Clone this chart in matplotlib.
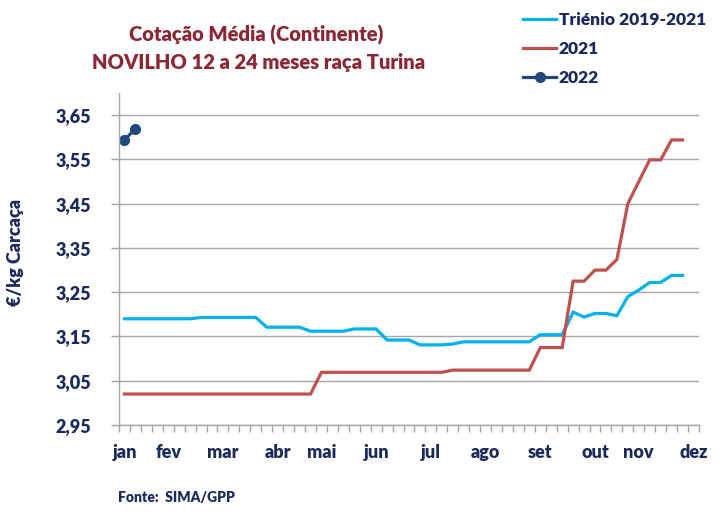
import matplotlib
matplotlib.use("Agg")
import matplotlib.pyplot as plt
from matplotlib.ticker import FixedLocator, NullFormatter

# ---- data ----
weeks = list(range(1, 54))  # 53 weekly categories
month_labels = ["jan", "fev", "mar", "abr", "mai", "jun", "jul", "ago", "set", "out", "nov", "dez"]
month_weeks = [1, 5, 10, 15, 19, 24, 29, 34, 39, 44, 48, 53]

trienio = [3.190, 3.190, 3.190, 3.190, 3.190, 3.190, 3.190,
           3.193, 3.193, 3.193, 3.193, 3.193, 3.193,
           3.171, 3.171, 3.171, 3.171,
           3.162, 3.162, 3.162, 3.162,
           3.167, 3.167, 3.167,
           3.142, 3.142, 3.142,
           3.131, 3.131, 3.131, 3.133,
           3.138, 3.138, 3.138, 3.138, 3.138, 3.138, 3.138,
           3.154, 3.154, 3.154,
           3.205, 3.194, 3.202, 3.202, 3.197, 3.240, 3.255, 3.272, 3.272, 3.288, 3.288]

y2021 = [3.020] * 18 + [3.069] * 12 + [3.074] * 8 + [3.125, 3.125, 3.125,
         3.275, 3.275, 3.300, 3.300, 3.324, 3.450, 3.500, 3.549, 3.549, 3.594, 3.594]

y2022 = [3.594, 3.619]

yticks = [2.95, 3.05, 3.15, 3.25, 3.35, 3.45, 3.55, 3.65]
ytick_labels = ["2,95", "3,05", "3,15", "3,25", "3,35", "3,45", "3,55", "3,65"]

# ---- style ----
FONT = "Lato"
WEIGHT = "heavy"
NAVY = "#1B2A5C"
DARKRED = "#8C2634"
GRID = "#A6A6A6"

fig = plt.figure(figsize=(7.25, 5.13), dpi=100)
ax = fig.add_axes([0.1641, 0.1715, 0.8, 0.6472])

def xpos(ws):
    return [w - 1 for w in ws]

ax.plot(xpos(weeks[:len(trienio)]), trienio, color="#00B0F0", lw=2.3, label="Triénio 2019-2021",
        solid_joinstyle="miter")
ax.plot(xpos(weeks[:len(y2021)]), y2021, color="#C0504D", lw=2.3, label="2021",
        solid_joinstyle="miter")
ax.plot(xpos(weeks[:len(y2022)]), y2022, color="#1F497D", lw=2.3, marker="o", ms=7, label="2022")

ax.set_xlim(-0.5, len(weeks) - 0.5)
ax.set_ylim(2.95, 3.70)
ax.set_yticks(yticks)
ax.set_yticklabels(ytick_labels)
ax.yaxis.grid(True, color=GRID, lw=1)
ax.set_axisbelow(True)

ax.set_xticks(xpos(month_weeks))
ax.set_xticklabels(month_labels)
ax.tick_params(axis="x", which="major", length=0, pad=14)
ax.xaxis.set_minor_locator(FixedLocator([i - 0.5 for i in range(len(weeks) + 1)]))
ax.xaxis.set_minor_formatter(NullFormatter())
ax.tick_params(axis="x", which="minor", length=5, color=GRID, width=1)
ax.tick_params(axis="y", length=6, color=GRID, width=1, pad=14)

for lab in ax.get_xticklabels() + ax.get_yticklabels():
    lab.set_fontfamily(FONT)
    lab.set_fontweight(WEIGHT)
    lab.set_fontsize(13)
    lab.set_color(NAVY)

for s in ["top", "right"]:
    ax.spines[s].set_visible(False)
for s in ["left", "bottom"]:
    ax.spines[s].set_color(GRID)
    ax.spines[s].set_linewidth(1)

fig.text(0.022, 0.507, "€/kg Carcaça", rotation=90, ha="center", va="center",
         fontfamily=FONT, fontweight=WEIGHT, fontsize=13, color=NAVY)

fig.text(0.354, 0.932, "Cotação Média (Continente)", ha="center", va="center",
         fontfamily=FONT, fontweight=WEIGHT, fontsize=14.5, color=DARKRED)
fig.text(0.357, 0.879, "NOVILHO 12 a 24 meses raça Turina", ha="center", va="center",
         fontfamily=FONT, fontweight=WEIGHT, fontsize=14.5, color=DARKRED)

fig.text(0.163, 0.031, "Fonte:  SIMA/GPP", ha="left", va="center",
         fontfamily=FONT, fontweight=WEIGHT, fontsize=10, color=NAVY)

leg = fig.legend(loc="upper left", bbox_to_anchor=(0.705, 1.0), frameon=False,
                 prop={"family": FONT, "weight": WEIGHT, "size": 12.5},
                 handlelength=1.9, handletextpad=0.15, labelspacing=0.75, borderaxespad=0.3)
for t in leg.get_texts():
    t.set_color(NAVY)

fig.savefig("out.png", dpi=100)
